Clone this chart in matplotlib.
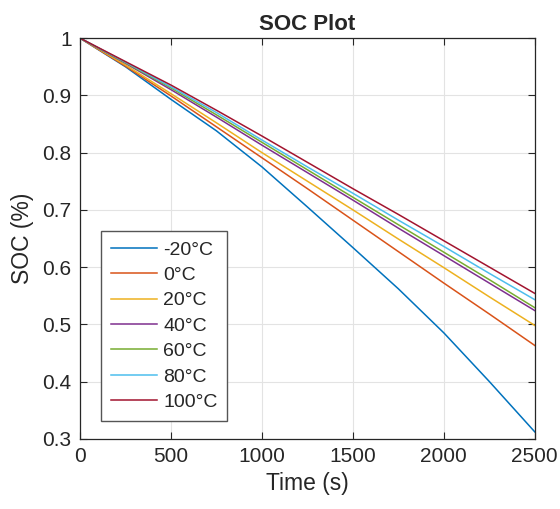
import numpy as np
import matplotlib
matplotlib.use("Agg")
import matplotlib.pyplot as plt

plt.rcParams['font.family'] = ['Liberation Sans', 'DejaVu Sans']

# time axis (s) and SOC for each temperature
time = [0, 250, 500, 750, 1000, 1250, 1500, 1750, 2000, 2250, 2500]
soc_m20 = [1.0, 0.950, 0.893, 0.838, 0.775, 0.705, 0.634, 0.562, 0.485, 0.400, 0.312]
soc_0 = [1.0, 0.951, 0.899, 0.845, 0.791, 0.737, 0.682, 0.627, 0.572, 0.518, 0.463]
soc_20 = [1.0, 0.953, 0.903, 0.852, 0.800, 0.750, 0.700, 0.649, 0.599, 0.548, 0.498]
soc_40 = [1.0, 0.956, 0.910, 0.862, 0.813, 0.765, 0.717, 0.668, 0.620, 0.572, 0.524]
soc_60 = [1.0, 0.957, 0.913, 0.866, 0.818, 0.770, 0.722, 0.674, 0.626, 0.578, 0.529]
soc_80 = [1.0, 0.958, 0.915, 0.870, 0.822, 0.775, 0.729, 0.682, 0.636, 0.589, 0.543]
soc_100 = [1.0, 0.959, 0.918, 0.874, 0.829, 0.783, 0.737, 0.692, 0.646, 0.600, 0.554]

labels = ["-20°C", "0°C", "20°C", "40°C", "60°C", "80°C", "100°C"]
series = [soc_m20, soc_0, soc_20, soc_40, soc_60, soc_80, soc_100]
colors = ["#0072BD", "#D95319", "#EDB120", "#7E2F8E", "#77AC30", "#4DBEEE", "#A2142F"]

dark = "#262626"

fig = plt.figure(figsize=(5.6, 5.09), dpi=100)
ax = fig.add_axes([0.143, 0.138, 0.812, 0.787])

for s, c, l in zip(series, colors, labels):
    ax.plot(time, s, color=c, lw=1.1, label=l)

ax.set_xlim(0, 2500)
ax.set_ylim(0.3, 1.0)
ax.set_xticks([0, 500, 1000, 1500, 2000, 2500])
ax.set_yticks([0.3, 0.4, 0.5, 0.6, 0.7, 0.8, 0.9, 1.0])
ax.set_yticklabels(["0.3", "0.4", "0.5", "0.6", "0.7", "0.8", "0.9", "1"])
ax.grid(True, color="#e3e3e3", lw=0.8)
ax.set_axisbelow(True)
ax.tick_params(direction="in", length=5, width=0.8, top=True, right=True,
               labelsize=15, colors=dark, pad=6)
for sp in ax.spines.values():
    sp.set_color(dark)
    sp.set_linewidth(0.9)

ax.set_xlabel("Time (s)", fontsize=16.5, color=dark, labelpad=4)
ax.set_ylabel("SOC (%)", fontsize=16.5, color=dark, labelpad=6)
ax.set_title("SOC Plot", fontsize=16, fontweight="bold", color=dark, pad=6)

leg = ax.legend(loc="lower left", bbox_to_anchor=(0.046, 0.045), borderaxespad=0,
                fontsize=14, fancybox=False, framealpha=1, edgecolor="#555555",
                handlelength=2.4, handletextpad=0.3, labelspacing=0.4,
                borderpad=0.5)
leg.get_frame().set_linewidth(1.0)
for t in leg.get_texts():
    t.set_color(dark)

plt.savefig("out.png", dpi=100)
